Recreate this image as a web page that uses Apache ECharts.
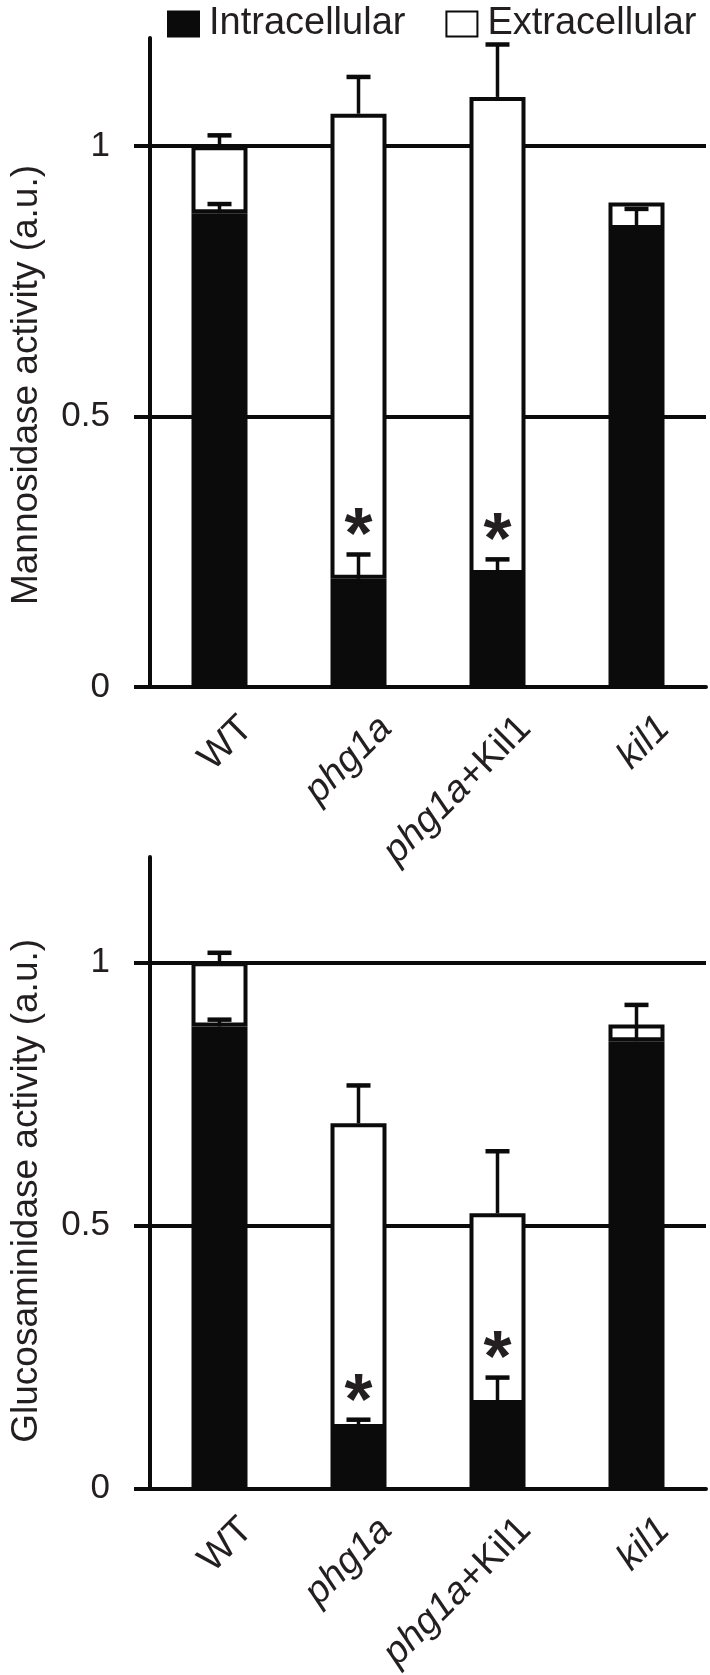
<!DOCTYPE html>
<html><head><meta charset="utf-8">
<script src="https://cdn.jsdelivr.net/npm/echarts@6/dist/echarts.min.js"></script>
<style>html,body{margin:0;padding:0;background:#fff}#c{width:710px;height:1675px}</style>
</head><body><div id="c"></div>
<script>
// ---- data ----
const categories = ['WT', 'phg1a', 'phg1a+Kil1', 'kil1'];
const yTicks = [0, 0.5, 1];
const yMax = 1.2;
// Mannosidase activity (top)
const manIntra    = [0.876, 0.200, 0.209, 0.847];
const manExtra    = [0.124, 0.860, 0.882, 0.049];
const manIntraErr = [0.017, 0.045, 0.027, 0.037];
const manTotalErr = [0.020, 0.068, 0.097, 0];
const manSig      = [0, 1, 1, 0];
// Glucosaminidase activity (bottom)
const gluIntra    = [0.878, 0.115, 0.161, 0.850];
const gluExtra    = [0.122, 0.579, 0.362, 0.032];
const gluIntraErr = [0.013, 0.016, 0.050, 0.069];
const gluTotalErr = [0.018, 0.072, 0.118, 0];
const gluSig      = [0, 1, 1, 0];

const FONT = '"Liberation Sans", Arial, Helvetica, sans-serif';
const TXT = '#231f20';
const INK = '#0b0b0c';

function errData(intra, extra, iErr, tErr) {
  const d = [];
  for (let i = 0; i < intra.length; i++) {
    if (iErr[i] > 0) d.push([i, intra[i], intra[i] + iErr[i]]);
    const tot = intra[i] + extra[i];
    if (tErr[i] > 0) d.push([i, tot, tot + tErr[i]]);
  }
  return d;
}
function sigData(intra, iErr, sig) {
  const d = [];
  for (let i = 0; i < intra.length; i++) if (sig[i]) d.push([i, intra[i] + iErr[i]]);
  return d;
}
function renderErr(params, api) {
  const x = api.value(0);
  const p0 = api.coord([x, api.value(1)]);
  const p1 = api.coord([x, api.value(2)]);
  const half = 12;
  return { type: 'group', children: [
    { type: 'line', shape: { x1: p0[0], y1: p0[1], x2: p1[0], y2: p1[1] }, style: { stroke: INK, lineWidth: 3.5 } },
    { type: 'line', shape: { x1: p1[0] - half, y1: p1[1], x2: p1[0] + half, y2: p1[1] }, style: { stroke: INK, lineWidth: 4.5 } }
  ]};
}
function renderSig(params, api) {
  const p = api.coord([api.value(0), api.value(1)]);
  return { type: 'text', x: p[0], y: p[1] - 16,
    style: { text: '*', font: 'bold 72px ' + FONT, fill: TXT, align: 'center', verticalAlign: 'middle', textAlign: 'center', textVerticalAlign: 'middle' } };
}

function xAxisCfg(gi) {
  return {
    type: 'category', gridIndex: gi, data: categories,
    axisLine: { lineStyle: { color: INK, width: 4 } },
    axisTick: { length: 21, lineStyle: { color: INK, width: 4 } },
    axisLabel: {
      interval: 0, rotate: 45, margin: 8, align: 'right', verticalAlign: 'top', padding: [20, 0, 0, 0],
      color: TXT, fontSize: 38, fontFamily: FONT,
      formatter: function (v) {
        if (v === 'WT') return '{n|WT}';
        if (v === 'phg1a+Kil1') return '{i|phg1a}{n|+Kil1}';
        return '{i|' + v + '}';
      },
      rich: {
        i: { fontStyle: 'italic', fontSize: 38, fontFamily: FONT, color: TXT },
        n: { fontSize: 38, fontFamily: FONT, color: TXT }
      }
    }
  };
}
function yAxisCfg(gi, name, pad) {
  return {
    type: 'value', gridIndex: gi, min: 0, max: yMax, interval: 0.5,
    name: name, nameLocation: 'middle', nameGap: 105,
    nameTextStyle: { fontSize: 37, fontFamily: FONT, color: TXT, padding: [0, pad, 0, 0] },
    axisLine: { show: true, lineStyle: { color: INK, width: 4 } },
    axisTick: { show: true, length: 16, customValues: yTicks, lineStyle: { color: INK, width: 4 } },
    axisLabel: { margin: 40, fontSize: 35, fontFamily: FONT, color: TXT, customValues: yTicks },
    splitLine: { show: true, showMinLine: false, lineStyle: { color: INK, width: 4 } }
  };
}
function barSeries(gi, intra, extra) {
  return [
    { name: 'Intracellular', type: 'bar', xAxisIndex: gi, yAxisIndex: gi, stack: 's' + gi, data: intra, barWidth: 56,
      itemStyle: { color: INK, borderColor: INK, borderWidth: 4 } },
    { name: 'Extracellular', type: 'bar', xAxisIndex: gi, yAxisIndex: gi, stack: 's' + gi, data: extra, barWidth: 56,
      itemStyle: { color: '#ffffff', borderColor: INK, borderWidth: 4 } }
  ];
}

const chart = echarts.init(document.getElementById('c'), null, { renderer: 'canvas' });
chart.setOption({
  animation: false,
  backgroundColor: '#ffffff',
  legend: {
    top: 0, left: 162, itemWidth: 31, itemHeight: 25, itemGap: 40, icon: 'rect',
    textStyle: { fontSize: 38, fontFamily: FONT, color: TXT, padding: [0, 0, 0, 5] },
    data: ['Intracellular', 'Extracellular']
  },
  grid: [
    { left: 137, right: 4, top: 38, height: 649 },
    { left: 138, right: 4, top: 857, height: 650 }
  ],
  xAxis: [xAxisCfg(0), xAxisCfg(1)],
  yAxis: [yAxisCfg(0, 'Mannosidase activity (a.u.)', 45), yAxisCfg(1, 'Glucosaminidase activity (a.u.)', 36)],
  series: [
    ...barSeries(0, manIntra, manExtra),
    ...barSeries(1, gluIntra, gluExtra),
    { type: 'custom', xAxisIndex: 0, yAxisIndex: 0, renderItem: renderErr, data: errData(manIntra, manExtra, manIntraErr, manTotalErr), z: 5 },
    { type: 'custom', xAxisIndex: 1, yAxisIndex: 1, renderItem: renderErr, data: errData(gluIntra, gluExtra, gluIntraErr, gluTotalErr), z: 5 },
    { type: 'custom', xAxisIndex: 0, yAxisIndex: 0, renderItem: renderSig, data: sigData(manIntra, manIntraErr, manSig), z: 6 },
    { type: 'custom', xAxisIndex: 1, yAxisIndex: 1, renderItem: renderSig, data: sigData(gluIntra, gluIntraErr, gluSig), z: 6 }
  ]
});
</script></body></html>
